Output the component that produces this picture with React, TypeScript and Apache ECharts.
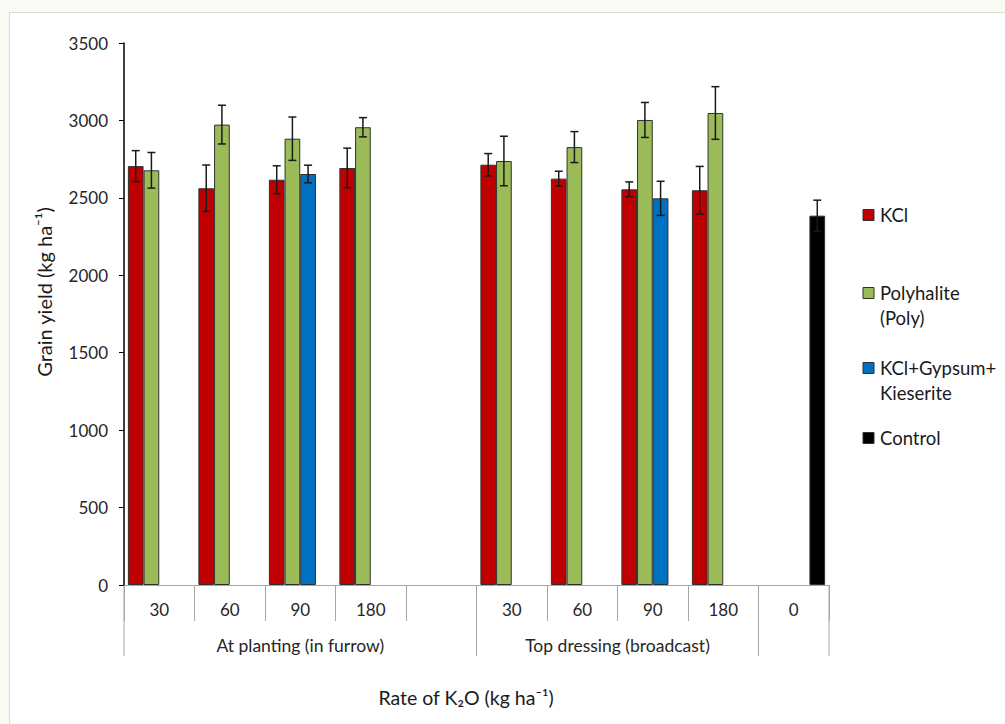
import React, { useEffect, useRef } from "react";
import * as echarts from "echarts";

const categories = ["30", "60", "90", "180", "", "30", "60", "90", "180", "0"];
const groups = [
  { label: "At planting (in furrow)", start: 0, end: 4 },
  { label: "Top dressing (broadcast)", start: 5, end: 8 },
  { label: "", start: 9, end: 9 },
];

const seriesNames = ["KCl", "Polyhalite (Poly)", "KCl+Gypsum+Kieserite", "Control"];
const legendLabels = ["KCl", "Polyhalite\n(Poly)", "KCl+Gypsum+\nKieserite", "Control"];
const seriesColors = ["#c00000", "#9bbb59", "#0070c0", "#000000"];

const kcl = [2705, 2562, 2617, 2693, null, 2714, 2624, 2555, 2549, null];
const kclErr = [100, 150, 90, 128, null, 72, 48, 48, 154, null];
const poly = [2678, 2973, 2882, 2956, null, 2738, 2828, 3003, 3048, null];
const polyErr = [115, 125, 140, 62, null, 160, 100, 113, 170, null];
const kgk = [null, null, 2654, null, null, null, null, 2497, null, null];
const kgkErr = [null, null, 57, null, null, null, null, 110, null, null];
const control = [null, null, null, null, null, null, null, null, null, 2385];
const controlErr = [null, null, null, null, null, null, null, null, null, 100];

const yTicks = { min: 0, max: 3500, interval: 500 };

const values = [kcl, poly, kgk, control];
const errors = [kclErr, polyErr, kgkErr, controlErr];

const CAT_GAP = 0.11;
const FONT = "Lato, 'Open Sans', sans-serif";

export default function App() {
  const ref = useRef<HTMLDivElement>(null);

  useEffect(() => {
    if (!ref.current) return;
    const chart = echarts.init(ref.current, undefined, { renderer: "svg" });

    const barSeries = values.map((vals, k) => ({
      type: "bar",
      name: seriesNames[k],
      data: vals.map((v) => (v == null ? "-" : v)),
      barGap: "0%",
      barCategoryGap: CAT_GAP * 100 + "%",
      itemStyle: { color: seriesColors[k], borderColor: "#303030", borderWidth: 1 },
      z: 2,
    }));

    const errSeries = errors.map((errs, k) => ({
      type: "custom",
      name: seriesNames[k] + " error",
      z: 5,
      data: errs
        .map((e, i) => (e == null || values[k][i] == null ? null : [i, values[k][i], e]))
        .filter((d) => d !== null),
      renderItem: (params: any, api: any) => {
        const cat = api.value(0);
        const val = api.value(1);
        const err = api.value(2);
        const catW = api.size([1, 0])[0];
        const bw = (catW * (1 - CAT_GAP)) / 4;
        const xc = api.coord([cat, val])[0] + (k - 1.5) * bw;
        const yTop = api.coord([cat, val + err])[1];
        const yBot = api.coord([cat, val - err])[1];
        const cap = 4;
        const st = { stroke: "#1a1a1a", lineWidth: 1.5 };
        return {
          type: "group",
          children: [
            { type: "line", shape: { x1: xc, y1: yTop, x2: xc, y2: yBot }, style: st },
            { type: "line", shape: { x1: xc - cap, y1: yTop, x2: xc + cap, y2: yTop }, style: st },
            { type: "line", shape: { x1: xc - cap, y1: yBot, x2: xc + cap, y2: yBot }, style: st },
          ],
        };
      },
    }));

    chart.setOption({
      animation: false,
      backgroundColor: "transparent",
      textStyle: { fontFamily: FONT },
      grid: { left: 124, right: 176, top: 43, bottom: 139, containLabel: false },
      xAxis: {
        type: "category",
        data: categories,
        axisLine: { lineStyle: { color: "#a6a6a6", width: 1 } },
        axisTick: { show: true, length: 36, interval: 0, lineStyle: { color: "#a6a6a6" } },
        axisLabel: { interval: 0, margin: 16, fontSize: 17, color: "#262626", fontFamily: FONT },
        splitLine: { show: false },
      },
      yAxis: {
        type: "value",
        min: yTicks.min,
        max: yTicks.max,
        interval: yTicks.interval,
        axisLine: { show: true, lineStyle: { color: "#000000", width: 1.5 } },
        axisTick: { show: true, length: 5, lineStyle: { color: "#000000" } },
        axisLabel: {
          margin: 16,
          fontSize: 17,
          color: "#262626",
          fontFamily: FONT,
          formatter: (v: number) => String(v),
        },
        splitLine: { show: false },
      },
      series: [...barSeries, ...errSeries],
    });

    // Group separators and labels, positioned from the category axis scale
    const px = (i: number) => chart.convertToPixel({ xAxisIndex: 0 }, i) as number;
    const catW = px(1) - px(0);
    const y0 = chart.convertToPixel({ yAxisIndex: 0 }, 0) as number;
    const graphics: any[] = [];
    const boundaries: number[] = [];
    groups.forEach((g) => {
      const left = px(g.start) - catW / 2;
      const right = px(g.end) + catW / 2;
      boundaries.push(left, right);
      if (g.label) {
        graphics.push({
          type: "text",
          x: (left + right) / 2,
          y: y0 + 60,
          style: {
            text: g.label,
            fontSize: 17.5,
            fontFamily: FONT,
            fill: "#262626",
            align: "center",
            verticalAlign: "middle",
          },
        });
      }
    });
    Array.from(new Set(boundaries.map((b) => Math.round(b * 10) / 10))).forEach((b) => {
      graphics.push({
        type: "line",
        shape: { x1: b, y1: y0, x2: b, y2: y0 + 71 },
        style: { stroke: "#a6a6a6", lineWidth: 1 },
      });
    });

    // axis titles
    graphics.push({
      type: "text",
      x: 466,
      y: 697,
      style: {
        text: "Rate of K₂O (kg ha⁻¹)",
        fontSize: 19.5,
        fontFamily: FONT,
        fill: "#1a1a1a",
        align: "center",
        verticalAlign: "middle",
      },
    });
    graphics.push({
      type: "text",
      x: 44,
      y: 292,
      rotation: Math.PI / 2,
      style: {
        text: "Grain yield (kg ha⁻¹)",
        fontSize: 20,
        fontFamily: FONT,
        fill: "#1a1a1a",
        align: "center",
        verticalAlign: "middle",
      },
    });

    // legend
    const legendTops = [215, 293, 368, 438];
    legendLabels.forEach((lab, k) => {
      graphics.push({
        type: "rect",
        shape: { x: 863, y: legendTops[k] - 5.5, width: 11, height: 11 },
        style: { fill: seriesColors[k], stroke: "#303030", lineWidth: 1 },
      });
      graphics.push({
        type: "text",
        x: 880,
        y: legendTops[k] - 13,
        style: {
          text: lab,
          fontSize: 18.5,
          lineHeight: 25,
          fontFamily: FONT,
          fill: "#1a1a1a",
          align: "left",
          verticalAlign: "top",
        },
      });
    });

    chart.setOption({ graphic: graphics });

    return () => chart.dispose();
  }, []);

  return (
    <div
      style={{
        position: "fixed",
        left: 0,
        top: 0,
        width: 1005,
        height: 724,
        background: "#fafaf5",
        overflow: "hidden",
      }}
    >
      <div
        style={{
          position: "absolute",
          left: 9,
          top: 12,
          width: 1010,
          height: 730,
          background: "#ffffff",
          border: "1px solid #dcdcd2",
        }}
      />
      <div ref={ref} style={{ position: "absolute", left: 0, top: 0, width: 1005, height: 724 }} />
    </div>
  );
}
